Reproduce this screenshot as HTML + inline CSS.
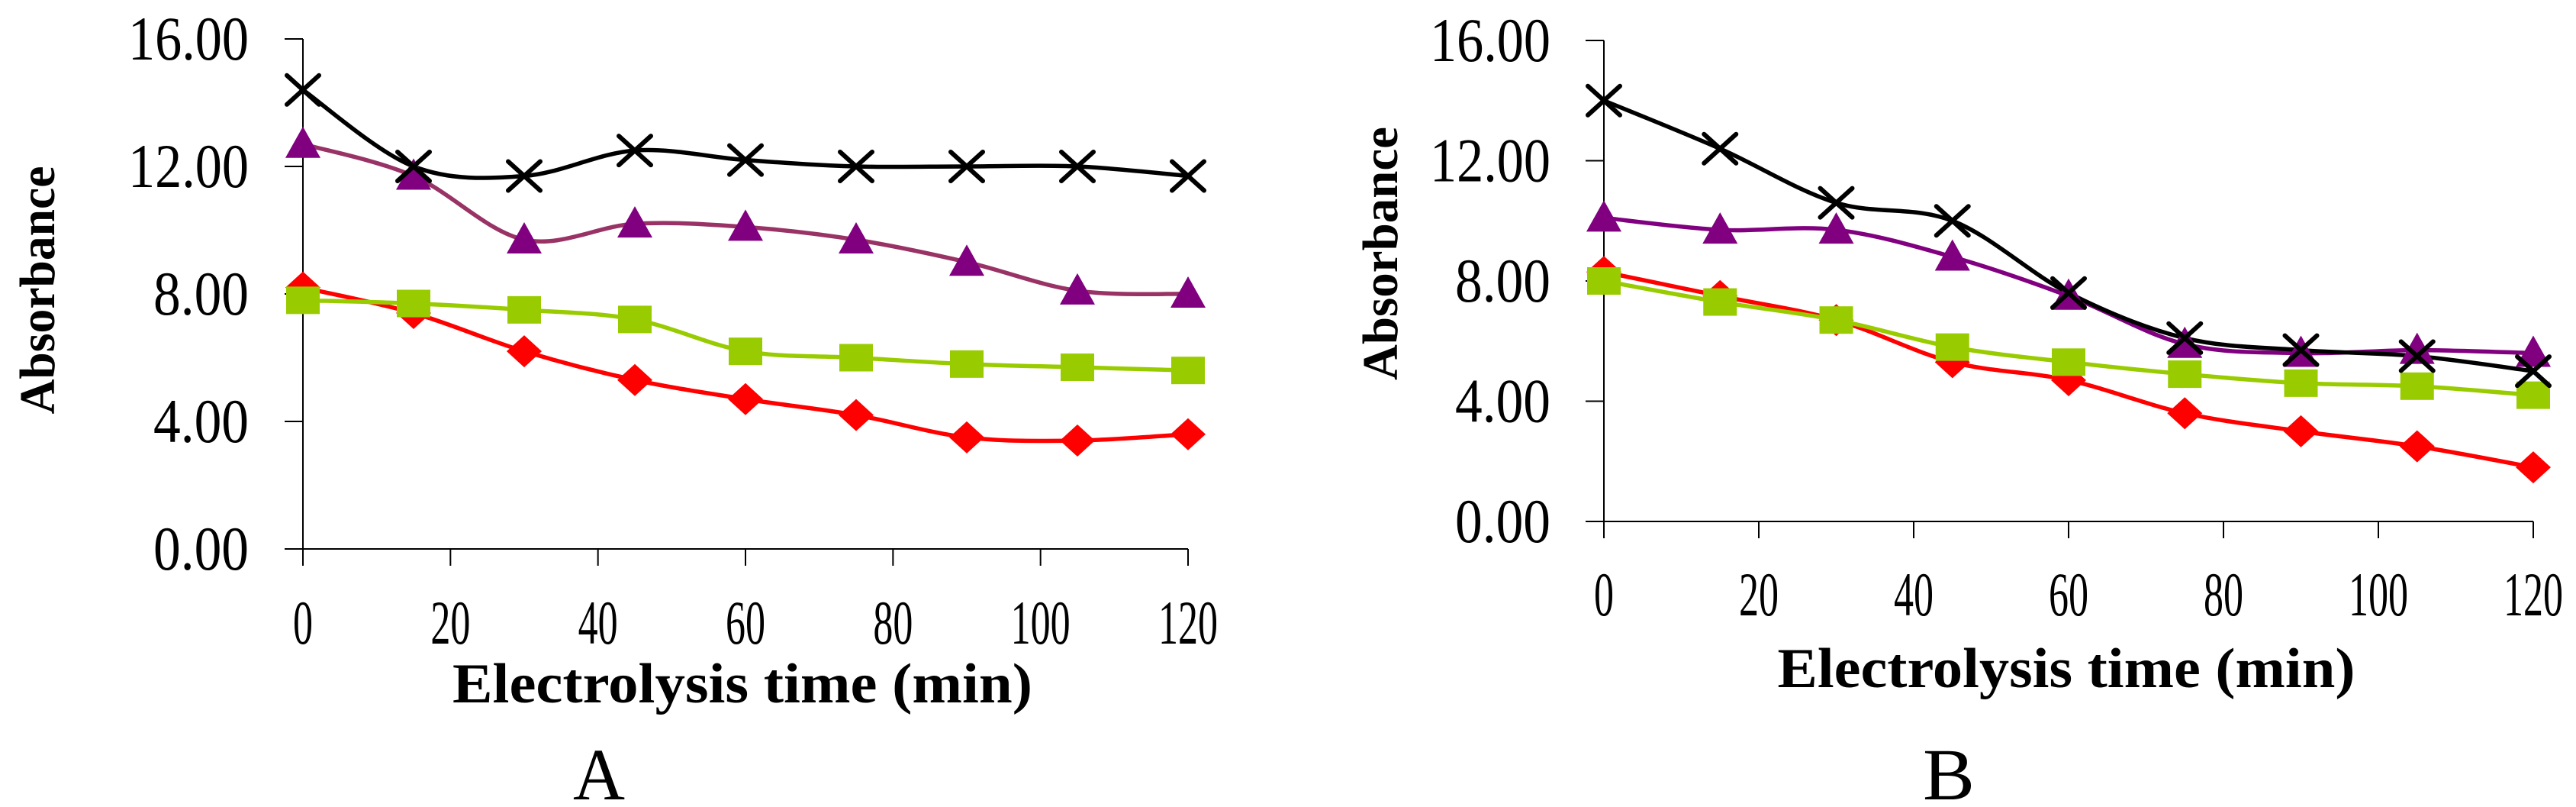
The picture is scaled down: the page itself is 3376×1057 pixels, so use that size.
<!DOCTYPE html>
<html><head><meta charset="utf-8"><style>
html,body{margin:0;padding:0;background:#fff;}
svg{display:block;}
text{font-family:"Liberation Serif",serif;fill:#000;}
</style></head><body>
<svg id="fig" width="3376" height="1057" viewBox="0 0 3376 1057" xmlns="http://www.w3.org/2000/svg"></svg>
<script>
const xCategories = [0,15,30,45,60,75,90,105,120];
const xTickLabels = ["0","20","40","60","80","100","120"];
const xTickValues = [0,20,40,60,80,100,120];
const yTickValues = [0,4,8,12,16];
const yTickLabels = ["0.00","4.00","8.00","12.00","16.00"];
const aBlack  = [14.4,12.0,11.7,12.5,12.2,12.0,12.0,12.0,11.7];
const aPurple = [12.7,11.7,9.7,10.2,10.1,9.7,9.0,8.1,8.0];
const aGreen  = [7.8,7.7,7.5,7.2,6.2,6.0,5.8,5.7,5.6];
const aRed    = [8.2,7.4,6.2,5.3,4.7,4.2,3.5,3.4,3.6];
const bBlack  = [14.0,12.4,10.6,10.0,7.6,6.1,5.7,5.5,5.0];
const bPurple = [10.1,9.7,9.7,8.8,7.5,5.9,5.6,5.7,5.6];
const bGreen  = [8.0,7.3,6.7,5.8,5.3,4.9,4.6,4.5,4.2];
const bRed    = [8.3,7.5,6.7,5.3,4.7,3.6,3.0,2.5,1.8];

const NS="http://www.w3.org/2000/svg";
const svg=document.getElementById('fig');
function mk(tag,attrs,parent){const e=document.createElementNS(NS,tag);for(const k in attrs)e.setAttribute(k,attrs[k]);(parent||svg).appendChild(e);return e;}

function smooth(pts){let d=`M${pts[0][0]},${pts[0][1]}`;for(let i=0;i<pts.length-1;i++){const p0=pts[Math.max(0,i-1)],p1=pts[i],p2=pts[i+1],p3=pts[Math.min(pts.length-1,i+2)];const t=1/6;d+=` C${p1[0]+(p2[0]-p0[0])*t},${p1[1]+(p2[1]-p0[1])*t} ${p2[0]-(p3[0]-p1[0])*t},${p2[1]-(p3[1]-p1[1])*t} ${p2[0]},${p2[1]}`;}return d;}

function marker(g,type,x,y,color){
  let m;
  if(type==='diamond') m=mk('polygon',{points:`${x},${y-21} ${x+23},${y} ${x},${y+21} ${x-23},${y}`,fill:color},g);
  else if(type==='square') m=mk('rect',{x:x-22,y:y-18,width:44,height:36,fill:color},g);
  else if(type==='triangle') m=mk('polygon',{points:`${x},${y-23} ${x+23},${y+18} ${x-23},${y+18}`,fill:color},g);
  else {m=mk('path',{d:`M${x-21},${y-19}L${x+21},${y+19}M${x+21},${y-19}L${x-21},${y+19}`,stroke:color,'stroke-width':6,fill:'none','stroke-linecap':'round'},g);}
  
  
}

function chart(cfg){
  const g=mk('g',{});
  
  
  const X=v=>cfg.x0+(cfg.x1-cfg.x0)*v/120;
  const Y=v=>cfg.y0-(cfg.y0-cfg.y16)*v/16;
  const ya=mk('line',{x1:cfg.x0,y1:cfg.y16,x2:cfg.x0,y2:cfg.y0,stroke:'#000','stroke-width':2},g);
  
  const xa=mk('line',{x1:cfg.x0-24,y1:cfg.y0,x2:cfg.x1,y2:cfg.y0,stroke:'#000','stroke-width':2},g);
  
  yTickValues.forEach((v,i)=>{
    mk('line',{x1:cfg.x0-24,y1:Y(v),x2:cfg.x0,y2:Y(v),stroke:'#000','stroke-width':2},g);
    const t=mk('text',{x:cfg.yLabRight,y:Y(v)+27,'text-anchor':'end','font-size':82,textLength:yTickLabels[i].length===5?158:125,lengthAdjust:'spacingAndGlyphs'},g);
    t.textContent=yTickLabels[i];
    
  });
  xTickValues.forEach((v,i)=>{
    mk('line',{x1:X(v),y1:cfg.y0,x2:X(v),y2:cfg.y0+22,stroke:'#000','stroke-width':2},g);
    const t=mk('text',{x:X(v),y:cfg.xLabY+27,'text-anchor':'middle','font-size':82,textLength:xTickLabels[i].length*26,lengthAdjust:'spacingAndGlyphs'},g);
    t.textContent=xTickLabels[i];
    
  });
  const yt=mk('text',{x:0,y:0,'text-anchor':'middle','font-size':66,'font-weight':'bold',textLength:cfg.yTitleLen,lengthAdjust:'spacingAndGlyphs',transform:`translate(${cfg.yTitleX+22},${cfg.yTitleY}) rotate(-90)`},g);
  yt.textContent='Absorbance';
  
  const xt=mk('text',{x:cfg.xTitleX,y:cfg.xTitleY+26,'text-anchor':'middle','font-size':74,'font-weight':'bold',textLength:cfg.xTitleLen,lengthAdjust:'spacingAndGlyphs'},g);
  xt.textContent='Electrolysis time (min)';
  
  const pl=mk('text',{x:cfg.panelX,y:1047,'text-anchor':'middle','font-size':96,textLength:68,lengthAdjust:'spacingAndGlyphs'},g);
  pl.textContent=cfg.id;
  
  cfg.series.forEach(s=>{
    const pts=s.data.map((v,i)=>[X(xCategories[i]),Y(v)]);
    const p=mk('path',{d:smooth(pts),fill:'none',stroke:s.line,'stroke-width':5.5},g);
    
  });
  cfg.series.forEach(s=>{
    s.data.forEach((v,i)=>marker(g,s.type,X(xCategories[i]),Y(v),s.color));
  });
}

chart({id:'A',x0:397,x1:1557,y0:719,y16:51,yLabRight:326,xLabY:816,yTitleX:49,yTitleY:380,yTitleLen:325,xTitleX:973,xTitleY:894,xTitleLen:760,panelX:785,
 series:[
  {name:'red',data:aRed,type:'diamond',color:'#ff0000',line:'#ff0000'},
  {name:'green',data:aGreen,type:'square',color:'#99cc00',line:'#99cc00'},
  {name:'purple',data:aPurple,type:'triangle',color:'#800080',line:'#993366'},
  {name:'black',data:aBlack,type:'x',color:'#000',line:'#000'}]});
chart({id:'B',x0:2102,x1:3320,y0:683,y16:53,yLabRight:2032,xLabY:779,yTitleX:1809,yTitleY:332,yTitleLen:332,xTitleX:2708,xTitleY:874,xTitleLen:757,panelX:2554,
 series:[
  {name:'red',data:bRed,type:'diamond',color:'#ff0000',line:'#ff0000'},
  {name:'green',data:bGreen,type:'square',color:'#99cc00',line:'#99cc00'},
  {name:'purple',data:bPurple,type:'triangle',color:'#800080',line:'#800080'},
  {name:'black',data:bBlack,type:'x',color:'#000',line:'#000'}]});
</script>
</body></html>
